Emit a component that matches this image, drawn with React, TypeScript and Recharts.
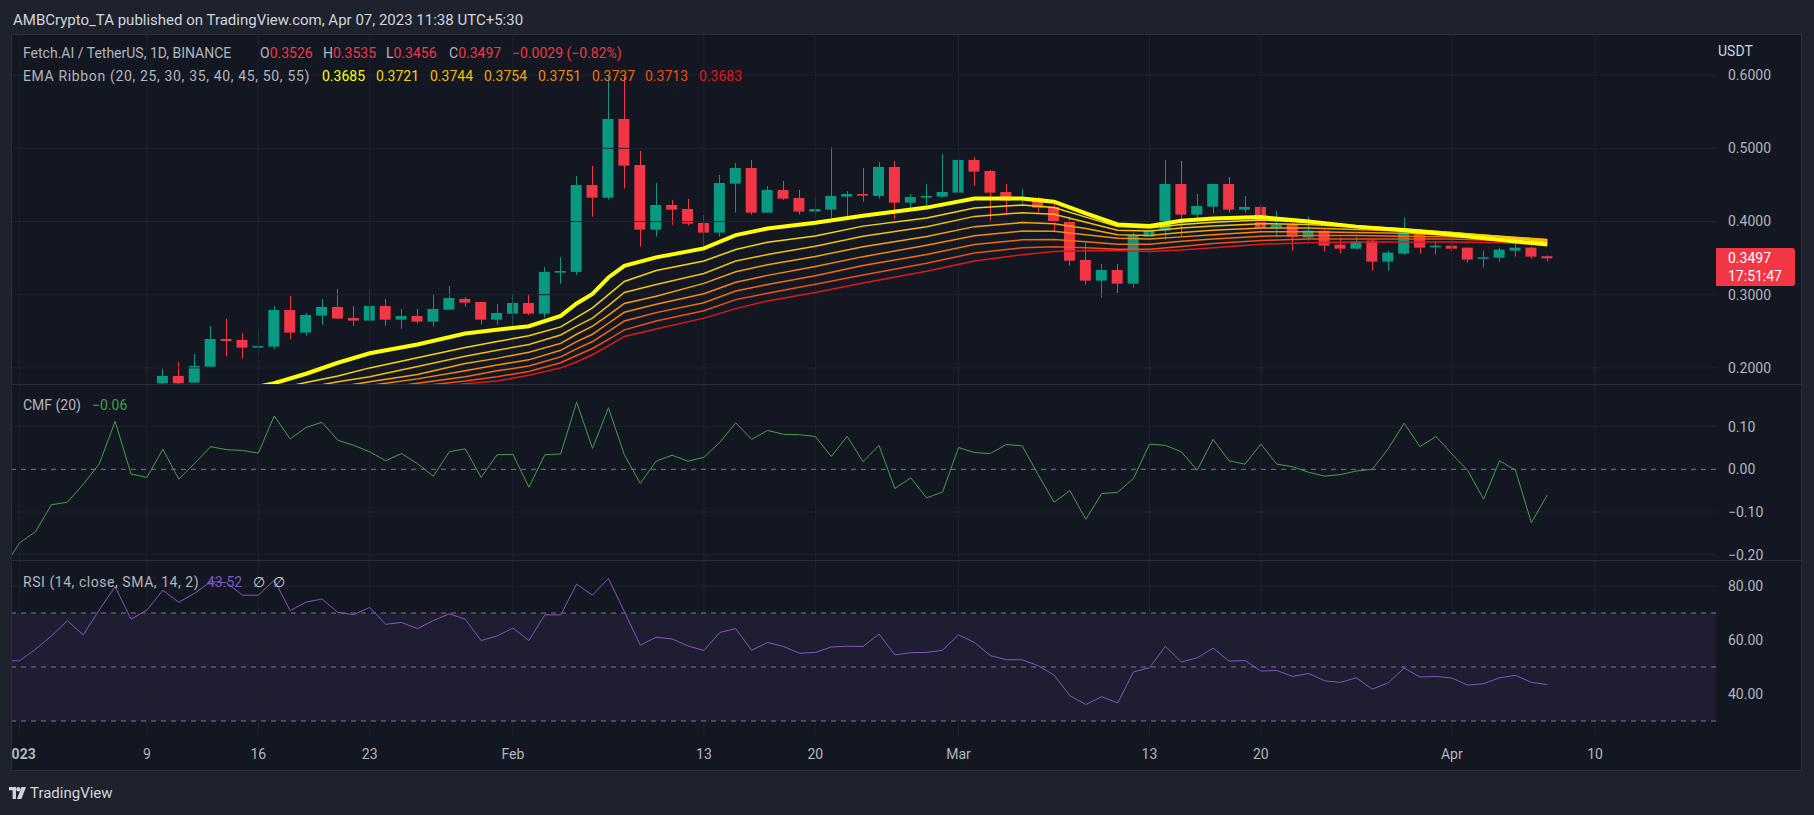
import React from 'react';
import { ComposedChart, Bar, Line, XAxis, YAxis, ReferenceLine, ReferenceArea } from 'recharts';

// ---------- palette ----------
const FONT = 'Roboto, "Noto Sans", "DejaVu Sans", sans-serif';
const OUTER_BG = '#1e222d';
const PANE_BG = '#131722';
const GRID = '#1e222d';
const BORDER = '#2a2e39';
const TEXT = '#b2b5be';
const UP = '#089981';
const DOWN = '#f23645';
const CMF_COLOR = '#43a047';
const RSI_COLOR = '#7e57c2';
const EMA_COLORS = ['#ffff00', '#f7d60c', '#f5bf0a', '#f5a50c', '#f58a0c', '#f26e0e', '#ec5214', '#e0181c'];

// ---------- layout ----------
const PLOT_LEFT = 12;
const PLOT_RIGHT = 1716;
const FRAME_RIGHT = 1801;
const AXIS_W = FRAME_RIGHT - PLOT_RIGHT;
const CHART_W = FRAME_RIGHT - PLOT_LEFT;
const X_DOMAIN: [number, number] = [-0.48, 106.6];

// ---------- time axis (day 0 = 1 Jan 2023) ----------
const dayTicks = [0, 8, 15, 22, 31, 43, 50, 59, 71, 78, 90, 99];
const dayTickLabels = ['2023', '9', '16', '23', 'Feb', '13', '20', 'Mar', '13', '20', 'Apr', '10'];

// ---------- FET/USDT daily candles, first visible candle = 10 Jan (day 9) ----------
const candleStartDay = 9;
const opens = [
  0.1790, 0.1890, 0.1799, 0.2017, 0.2395, 0.2382, 0.2277, 0.2290, 0.2791, 0.2482,
  0.2714, 0.2832, 0.2682, 0.2646, 0.2846, 0.2659, 0.2709, 0.2632, 0.2796, 0.2942,
  0.2901, 0.2659, 0.2741, 0.2887, 0.2741, 0.3301, 0.3311, 0.4499, 0.4326, 0.5401,
  0.4772, 0.3889, 0.4226, 0.4171, 0.3980, 0.3848, 0.4517, 0.4731, 0.4121, 0.4431,
  0.4321, 0.4135, 0.4162, 0.4340, 0.4376, 0.4349, 0.4745, 0.4258, 0.4326, 0.4340,
  0.4394, 0.4841, 0.4690, 0.4403, 0.4294, 0.4321, 0.4199, 0.4007, 0.3475, 0.3192,
  0.3338, 0.3151, 0.3793, 0.3875, 0.4513, 0.4094, 0.4203, 0.4513, 0.4162, 0.4199,
  0.3916, 0.3957, 0.3780, 0.3875, 0.3684, 0.3629, 0.3739, 0.3452, 0.3561, 0.3862,
  0.3648, 0.3670, 0.3643, 0.3493, 0.3506, 0.3602, 0.3643, 0.3526,
];
const highs = [
  0.1981, 0.2081, 0.2190, 0.2573, 0.2668, 0.2477, 0.2505, 0.2846, 0.2983, 0.2750,
  0.2942, 0.3078, 0.2846, 0.3078, 0.2942, 0.2805, 0.2805, 0.3010, 0.3119, 0.2969,
  0.2901, 0.2873, 0.3010, 0.3010, 0.3379, 0.3515, 0.4622, 0.4759, 0.6000, 0.5980,
  0.4964, 0.4526, 0.4294, 0.4308, 0.4089, 0.4636, 0.4800, 0.4841, 0.4485, 0.4554,
  0.4431, 0.4308, 0.5018, 0.4417, 0.4731, 0.4813, 0.4827, 0.4376, 0.4513, 0.4923,
  0.4936, 0.4882, 0.4704, 0.4513, 0.4444, 0.4335, 0.4253, 0.4066, 0.3711, 0.3420,
  0.3420, 0.3848, 0.4016, 0.4841, 0.4827, 0.4376, 0.4513, 0.4608, 0.4349, 0.4226,
  0.4144, 0.4039, 0.4066, 0.3889, 0.3780, 0.3793, 0.3752, 0.3602, 0.4053, 0.3903,
  0.3711, 0.3766, 0.3643, 0.3602, 0.3643, 0.3752, 0.3657, 0.3535,
];
const lows = [
  0.1720, 0.1760, 0.1795, 0.2010, 0.2154, 0.2127, 0.2181, 0.2254, 0.2391, 0.2441,
  0.2587, 0.2673, 0.2573, 0.2646, 0.2573, 0.2536, 0.2605, 0.2564, 0.2796, 0.2837,
  0.2591, 0.2591, 0.2564, 0.2723, 0.2687, 0.3151, 0.3270, 0.4066, 0.4300, 0.4449,
  0.3657, 0.3793, 0.3953, 0.3944, 0.3657, 0.3793, 0.4121, 0.4094, 0.4121, 0.4294,
  0.4094, 0.4053, 0.4053, 0.4021, 0.4271, 0.4312, 0.4035, 0.4176, 0.4203, 0.4326,
  0.4394, 0.4485, 0.4012, 0.4094, 0.4244, 0.4121, 0.3862, 0.3397, 0.3138, 0.2960,
  0.3028, 0.3097, 0.3534, 0.3752, 0.3793, 0.3985, 0.4112, 0.4121, 0.4121, 0.3848,
  0.3793, 0.3602, 0.3739, 0.3588, 0.3561, 0.3616, 0.3329, 0.3329, 0.3547, 0.3561,
  0.3547, 0.3588, 0.3438, 0.3370, 0.3452, 0.3520, 0.3493, 0.3456,
];
const closes = [
  0.1890, 0.1790, 0.2026, 0.2395, 0.2368, 0.2277, 0.2300, 0.2791, 0.2482, 0.2723,
  0.2832, 0.2673, 0.2646, 0.2846, 0.2659, 0.2709, 0.2632, 0.2805, 0.2955, 0.2892,
  0.2659, 0.2750, 0.2887, 0.2741, 0.3311, 0.3324, 0.4499, 0.4326, 0.5401, 0.4763,
  0.3889, 0.4226, 0.4162, 0.3971, 0.3848, 0.4526, 0.4731, 0.4121, 0.4431, 0.4312,
  0.4135, 0.4171, 0.4349, 0.4376, 0.4353, 0.4745, 0.4258, 0.4335, 0.4349, 0.4403,
  0.4841, 0.4681, 0.4394, 0.4285, 0.4321, 0.4189, 0.3998, 0.3465, 0.3192, 0.3338,
  0.3151, 0.3807, 0.3884, 0.4513, 0.4094, 0.4212, 0.4513, 0.4162, 0.4199, 0.3916,
  0.3957, 0.3793, 0.3875, 0.3670, 0.3629, 0.3725, 0.3452, 0.3575, 0.3862, 0.3643,
  0.3670, 0.3629, 0.3479, 0.3511, 0.3616, 0.3643, 0.3520, 0.3497,
];

// ---------- EMA ribbon (20 … 55) sampled on these days ----------
const emaDays = [14, 16, 18, 20, 22, 25, 28, 30, 32, 34, 35, 36, 37, 38, 40, 43, 45, 47, 50, 53, 57, 60, 63, 65, 67, 69, 71, 73, 75, 78, 81, 84, 87, 90, 93, 96];
const ema20 = [0.170, 0.179, 0.192, 0.207, 0.220, 0.232, 0.247, 0.252, 0.257, 0.271, 0.288, 0.301, 0.3235, 0.3395, 0.351, 0.3632, 0.3815, 0.3905, 0.3984, 0.408, 0.419, 0.4315, 0.4315, 0.427, 0.411, 0.396, 0.394, 0.401, 0.404, 0.406, 0.400, 0.393, 0.388, 0.382, 0.375, 0.3685];
const ema25 = [0.165, 0.171, 0.180, 0.189, 0.200, 0.214, 0.228, 0.236, 0.244, 0.256, 0.269, 0.282, 0.300, 0.318, 0.333, 0.346, 0.3617, 0.3716, 0.3803, 0.3937, 0.4047, 0.4185, 0.4225, 0.419, 0.406, 0.393, 0.391, 0.396, 0.399, 0.402, 0.399, 0.394, 0.390, 0.385, 0.379, 0.3721];
const ema30 = [0.160, 0.166, 0.173, 0.181, 0.188, 0.202, 0.216, 0.224, 0.232, 0.245, 0.257, 0.268, 0.285, 0.303, 0.314, 0.329, 0.346, 0.3548, 0.3662, 0.380, 0.3928, 0.407, 0.412, 0.410, 0.399, 0.388, 0.387, 0.391, 0.394, 0.397, 0.396, 0.392, 0.389, 0.385, 0.380, 0.3744];
const ema35 = [0.157, 0.162, 0.168, 0.174, 0.181, 0.191, 0.206, 0.213, 0.2215, 0.2335, 0.246, 0.257, 0.272, 0.288, 0.298, 0.3155, 0.3314, 0.341, 0.3523, 0.3655, 0.3794, 0.393, 0.3985, 0.397, 0.3905, 0.382, 0.381, 0.385, 0.388, 0.391, 0.391, 0.389, 0.387, 0.384, 0.380, 0.3754];
const ema40 = [0.154, 0.158, 0.164, 0.170, 0.176, 0.185, 0.196, 0.204, 0.211, 0.224, 0.236, 0.246, 0.261, 0.276, 0.287, 0.3013, 0.317, 0.3264, 0.3386, 0.352, 0.3676, 0.3805, 0.387, 0.3867, 0.382, 0.377, 0.376, 0.379, 0.382, 0.386, 0.386, 0.385, 0.384, 0.382, 0.379, 0.3751];
const ema45 = [0.151, 0.154, 0.160, 0.165, 0.170, 0.179, 0.188, 0.196, 0.2025, 0.215, 0.226, 0.236, 0.250, 0.264, 0.2755, 0.289, 0.305, 0.314, 0.326, 0.340, 0.355, 0.3685, 0.375, 0.3755, 0.3725, 0.369, 0.369, 0.373, 0.376, 0.380, 0.381, 0.381, 0.380, 0.379, 0.377, 0.3737];
const ema50 = [0.148, 0.150, 0.155, 0.160, 0.165, 0.175, 0.182, 0.188, 0.195, 0.207, 0.217, 0.2265, 0.239, 0.252, 0.264, 0.278, 0.2933, 0.302, 0.3143, 0.327, 0.343, 0.357, 0.364, 0.3655, 0.364, 0.362, 0.362, 0.366, 0.370, 0.374, 0.376, 0.376, 0.376, 0.376, 0.374, 0.3713];
const ema55 = [0.145, 0.146, 0.150, 0.155, 0.160, 0.168, 0.1785, 0.182, 0.190, 0.200, 0.208, 0.218, 0.230, 0.243, 0.253, 0.268, 0.281, 0.2915, 0.303, 0.316, 0.332, 0.346, 0.3546, 0.359, 0.360, 0.3605, 0.359, 0.361, 0.364, 0.369, 0.371, 0.372, 0.372, 0.372, 0.371, 0.3683];
const emaSeries = [ema20, ema25, ema30, ema35, ema40, ema45, ema50, ema55];
const emaKeys = ['e20', 'e25', 'e30', 'e35', 'e40', 'e45', 'e50', 'e55'];
const emaLabels = ['0.3685', '0.3721', '0.3744', '0.3754', '0.3751', '0.3737', '0.3713', '0.3683'];

// ---------- oscillators, from 31 Dec 2022 (day -1) ----------
const indicatorStartDay = -1;
const cmfValues = [
  -0.23, -0.172, -0.146, -0.083, -0.077, -0.035, 0.0125, 0.112, -0.011, -0.019,
  0.047, -0.023, 0.014, 0.053, 0.046, 0.044, 0.038, 0.125, 0.071, 0.098,
  0.110, 0.068, 0.056, 0.041, 0.020, 0.037, 0.013, -0.016, 0.041, 0.048,
  -0.019, 0.034, 0.035, -0.042, 0.034, 0.036, 0.157, 0.049, 0.144, 0.034,
  -0.033, 0.019, 0.033, 0.019, 0.028, 0.063, 0.109, 0.070, 0.091, 0.082,
  0.081, 0.077, 0.030, 0.077, 0.018, 0.056, -0.045, -0.020, -0.067, -0.053,
  0.051, 0.039, 0.037, 0.058, 0.055, -0.012, -0.077, -0.050, -0.117, -0.057,
  -0.054, -0.021, 0.059, 0.056, 0.041, -0.002, 0.070, 0.020, 0.012, 0.059,
  0.012, 0.006, -0.007, -0.016, -0.0125, -0.004, 0.000, 0.048, 0.108, 0.053,
  0.077, 0.036, -0.003, -0.070, 0.020, -0.002, -0.125, -0.06,
];
const rsiValues = [
  52.3, 52.3, 56.6, 61.5, 67.1, 61.9, 71.1, 79.8, 67.7, 71.1,
  78.4, 74.0, 77.3, 81.6, 81.2, 76.6, 76.6, 82.2, 70.9, 74.0,
  75.2, 70.2, 69.4, 72.1, 65.8, 66.5, 64.2, 67.2, 69.7, 67.7,
  59.8, 61.5, 64.4, 59.8, 69.3, 69.3, 80.7, 76.6, 82.8, 70.5,
  58.1, 61.0, 60.4, 57.8, 56.1, 62.8, 64.2, 56.2, 59.1, 57.6,
  55.1, 55.4, 57.4, 57.7, 57.6, 62.2, 54.5, 55.3, 55.4, 56.2,
  61.9, 59.1, 54.2, 52.7, 52.7, 50.5, 47.0, 39.4, 36.1, 39.0,
  36.7, 48.2, 49.7, 57.7, 51.9, 53.4, 57.0, 52.2, 52.4, 48.5,
  48.7, 46.5, 47.6, 44.9, 44.3, 46.0, 41.8, 44.1, 49.6, 46.3,
  46.5, 45.9, 43.3, 43.8, 46.0, 46.9, 44.3, 43.52,
];

// ---------- axis ticks ----------
const priceTicks = [0.2, 0.3, 0.4, 0.5, 0.6];
const cmfTicks = [-0.2, -0.1, 0, 0.1];
const rsiTicks = [40, 60, 80];
const rsiDashed = [30, 50, 70];

// ---------- table builders ----------
type Row = { [k: string]: number | undefined };
const priceRows: Row[] = opens.map((o, i) => ({
  d: candleStartDay + i, open: o, high: highs[i], low: lows[i], close: closes[i],
}));
emaDays.forEach((day, j) => {
  const row = priceRows[day - candleStartDay];
  emaKeys.forEach((k, m) => { row[k] = emaSeries[m][j]; });
});
const indicatorRows: Row[] = cmfValues.map((v, i) => ({ d: indicatorStartDay + i, cmf: v, rsi: rsiValues[i] }));

const minus = (v: number, digits: number) => (v < 0 ? '\u2212' + Math.abs(v).toFixed(digits) : v.toFixed(digits));

// ---------- candle shape ----------
const Candle = (props: any) => {
  const { x, y, width, height, payload } = props;
  if (!payload || payload.high == null) return null;
  const { open, close, high, low } = payload;
  const top = Math.min(y, y + height);
  const h = Math.abs(height);
  const range = high - low;
  const py = (v: number) => (range === 0 ? top : top + ((high - v) / range) * h);
  const color = close >= open ? UP : DOWN;
  const cx = Math.round(x + width / 2) + 0.5;
  const bTop = py(Math.max(open, close));
  const bBot = py(Math.min(open, close));
  return (
    <g>
      <line x1={cx} x2={cx} y1={top} y2={top + h} stroke={color} strokeWidth={1} />
      <rect x={x} y={bTop} width={width} height={Math.max(1.5, bBot - bTop)} fill={color} />
    </g>
  );
};

const TimeTick = (props: any) => {
  const { x, y, payload } = props;
  const i = dayTicks.indexOf(payload.value);
  return (
    <text x={x} y={y} dy={15} textAnchor="middle" fill={TEXT} fontSize={14} fontWeight={i === 0 ? 700 : 400}>
      {dayTickLabels[i]}
    </text>
  );
};

const verticalGrid = dayTicks.map((d) => (
  <ReferenceLine key={'v' + d} x={d} stroke={GRID} strokeWidth={1} ifOverflow="hidden" />
));

const yAxisProps = {
  orientation: 'right' as const,
  width: AXIS_W,
  axisLine: false,
  tickLine: false,
  tickSize: 6,
  tickMargin: 6,
  allowDataOverflow: true,
  interval: 0 as const,
  tick: { fill: TEXT, fontSize: 14 },
};

// one legend token placed at its own x
const Tok = ({ x, top, color = TEXT, spacing = 0, children }: { x: number; top: number; color?: string; spacing?: number; children: React.ReactNode }) => (
  <div style={{ position: 'absolute', left: x, top, height: 18, lineHeight: '18px', fontSize: 14, whiteSpace: 'nowrap', color, letterSpacing: spacing }}>
    {children}
  </div>
);

const ohlcLegend = [
  { x: 260, k: 'O', v: '0.3526' },
  { x: 323, k: 'H', v: '0.3535' },
  { x: 386, k: 'L', v: '0.3456' },
  { x: 449, k: 'C', v: '0.3497' },
];
const emaLabelX = [322, 376, 430, 484, 538, 592, 645, 699];

export default function App() {
  return (
    <div style={{ position: 'absolute', left: 0, top: 0, width: 1814, height: 815, background: OUTER_BG, fontFamily: FONT, overflow: 'hidden' }}>
      <style>{'.cmf-pane svg { overflow: visible; }'}</style>

      {/* publisher line */}
      <div style={{ position: 'absolute', left: 13, top: 10, fontSize: 15, lineHeight: '20px', color: '#d1d4dc', whiteSpace: 'nowrap' }}>
        AMBCrypto_TA published on TradingView.com, Apr 07, 2023 11:38 UTC+5:30
      </div>

      {/* chart frame */}
      <div style={{ position: 'absolute', left: PLOT_LEFT - 1, top: 34, width: CHART_W + 2, height: 737, background: PANE_BG, border: `1px solid ${BORDER}`, boxSizing: 'border-box' }} />

      {/* price pane */}
      <div style={{ position: 'absolute', left: PLOT_LEFT, top: 35 }}>
        <ComposedChart width={CHART_W} height={349} data={priceRows} margin={{ top: 0, right: 0, bottom: 0, left: 0 }}>
          <XAxis dataKey="d" type="number" domain={X_DOMAIN} allowDataOverflow hide />
          <YAxis {...yAxisProps} domain={[0.178, 0.6548]} ticks={priceTicks} tickFormatter={(v: number) => v.toFixed(4)} />
          {verticalGrid}
          {priceTicks.map((t) => <ReferenceLine key={'h' + t} y={t} stroke={GRID} ifOverflow="hidden" />)}
          {emaKeys.slice().reverse().map((k) => {
            const idx = emaKeys.indexOf(k);
            return (
              <Line key={k} dataKey={k} type="linear" stroke={EMA_COLORS[idx]} strokeWidth={idx === 0 ? 4 : 1.5}
                dot={false} activeDot={false} connectNulls isAnimationActive={false} />
            );
          })}
          <Bar dataKey={(r: any) => [r.low, r.high]} barSize={11} shape={(p: any) => <Candle {...p} />} isAnimationActive={false} />
        </ComposedChart>
      </div>

      {/* CMF pane */}
      <div className="cmf-pane" style={{ position: 'absolute', left: PLOT_LEFT, top: 385 }}>
        <ComposedChart width={CHART_W} height={175} data={indicatorRows} margin={{ top: 0, right: 0, bottom: 0, left: 0 }}>
          <XAxis dataKey="d" type="number" domain={X_DOMAIN} allowDataOverflow hide />
          <YAxis {...yAxisProps} domain={[-0.2124, 0.1974]} ticks={cmfTicks} tickFormatter={(v: number) => minus(v, 2)} />
          {verticalGrid}
          {[0.1, -0.1, -0.2].map((t) => <ReferenceLine key={'h' + t} y={t} stroke={GRID} ifOverflow="hidden" />)}
          <ReferenceLine y={0} stroke="#787b86" strokeDasharray="5 5" />
          <Line dataKey="cmf" type="linear" stroke={CMF_COLOR} strokeWidth={1} dot={false} activeDot={false} isAnimationActive={false} />
        </ComposedChart>
      </div>

      {/* RSI pane + time axis */}
      <div style={{ position: 'absolute', left: PLOT_LEFT, top: 561 }}>
        <ComposedChart width={CHART_W} height={209} data={indicatorRows} margin={{ top: 0, right: 0, bottom: 0, left: 0 }}>
          <XAxis dataKey="d" type="number" domain={X_DOMAIN} allowDataOverflow ticks={dayTicks} interval={0}
            height={34} axisLine={false} tickLine={false} tickSize={6} tickMargin={2} tick={<TimeTick />} />
          <YAxis {...yAxisProps} domain={[24.44, 89.26]} ticks={rsiTicks} tickFormatter={(v: number) => v.toFixed(2)} />
          {verticalGrid}
          <ReferenceArea y1={30} y2={70} fill={RSI_COLOR} fillOpacity={0.1} stroke="none" ifOverflow="hidden" />
          {rsiTicks.map((t) => <ReferenceLine key={'h' + t} y={t} stroke={GRID} ifOverflow="hidden" />)}
          {rsiDashed.map((t) => <ReferenceLine key={'d' + t} y={t} stroke="#787b86" strokeDasharray="5 5" />)}
          <Line dataKey="rsi" type="linear" stroke={RSI_COLOR} strokeWidth={1} dot={false} activeDot={false} isAnimationActive={false} />
        </ComposedChart>
      </div>

      {/* pane separators */}
      <div style={{ position: 'absolute', left: PLOT_LEFT, top: 384, width: CHART_W, height: 1, background: BORDER }} />
      <div style={{ position: 'absolute', left: PLOT_LEFT, top: 560, width: CHART_W, height: 1, background: BORDER }} />

      {/* legends */}
      <Tok x={23} top={44}>Fetch.AI / TetherUS, 1D, BINANCE</Tok>
      {ohlcLegend.map((o) => (
        <Tok key={o.k} x={o.x} top={44}>{o.k}<span style={{ color: DOWN }}>{o.v}</span></Tok>
      ))}
      <Tok x={512} top={44} color={DOWN}>{'\u22120.0029 (\u22120.82%)'}</Tok>

      <Tok x={23} top={67} spacing={0.65}>EMA Ribbon (20, 25, 30, 35, 40, 45, 50, 55)</Tok>
      {emaLabels.map((v, i) => <Tok key={i} x={emaLabelX[i]} top={67} color={EMA_COLORS[i]}>{v}</Tok>)}

      <Tok x={23} top={396}>CMF (20)</Tok>
      <Tok x={92} top={396} color={CMF_COLOR}>{'\u22120.06'}</Tok>

      <Tok x={23} top={573} spacing={0.55}>RSI (14, close, SMA, 14, 2)</Tok>
      <Tok x={207} top={573} color={RSI_COLOR}>43.52</Tok>
      <Tok x={253} top={573} color="#d1d4dc">{'\u2205'}</Tok>
      <Tok x={273} top={573} color="#d1d4dc">{'\u2205'}</Tok>

      {/* price scale extras */}
      <div style={{ position: 'absolute', left: 1718, top: 42, fontSize: 14, lineHeight: '18px', color: '#d1d4dc' }}>USDT</div>
      <div style={{ position: 'absolute', left: PLOT_RIGHT, top: 248, width: 79, height: 38, background: DOWN, borderRadius: '0 3px 3px 0', color: '#fff', fontSize: 14, lineHeight: '18px', paddingLeft: 12, boxSizing: 'border-box', paddingTop: 1 }}>
        <div>0.3497</div>
        <div>17:51:47</div>
      </div>

      {/* footer brand */}
      <div style={{ position: 'absolute', left: 9, top: 784, height: 18, display: 'flex', alignItems: 'center', gap: 4, color: '#d1d4dc', fontSize: 15 }}>
        <svg width={17} height={12} viewBox="0 0 17 12">
          <path d="M0 0h7v12H3.6V3.2H0z" fill="#d1d4dc" />
          <circle cx={9.4} cy={2.2} r={2.2} fill="#d1d4dc" />
          <path d="M12.6 0H17l-4.6 12H8z" fill="#d1d4dc" />
        </svg>
        <span>TradingView</span>
      </div>
    </div>
  );
}
